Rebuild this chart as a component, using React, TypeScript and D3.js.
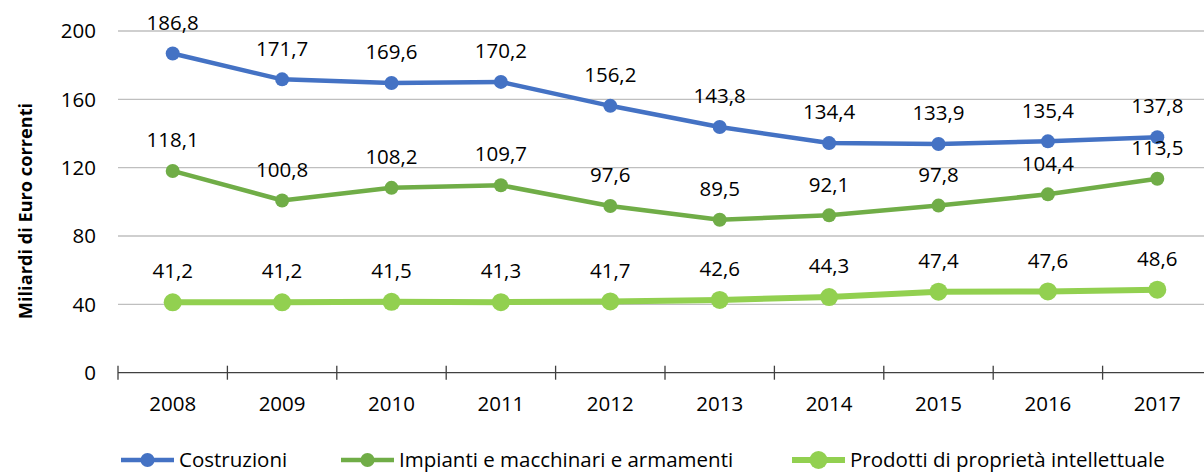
import React from "react"
import * as d3 from "d3"

const width = 1204
const height = 472
const fontFamily = "'Open Sans', sans-serif"

const years = ["2008", "2009", "2010", "2011", "2012", "2013", "2014", "2015", "2016", "2017"]
const costruzioni = [186.8, 171.7, 169.6, 170.2, 156.2, 143.8, 134.4, 133.9, 135.4, 137.8]
const impianti = [118.1, 100.8, 108.2, 109.7, 97.6, 89.5, 92.1, 97.8, 104.4, 113.5]
const prodotti = [41.2, 41.2, 41.5, 41.3, 41.7, 42.6, 44.3, 47.4, 47.6, 48.6]
const yTicks = [0, 40, 80, 120, 160, 200]

const series = [
  { name: "Costruzioni", values: costruzioni, color: "#4472C4", r: 7, sw: 4.5 },
  { name: "Impianti e macchinari e armamenti", values: impianti, color: "#70AD47", r: 7, sw: 4.5 },
  { name: "Prodotti di proprietà intellettuale", values: prodotti, color: "#92D050", r: 9, sw: 6 },
]
const legendX = [121, 341, 792]

const x0 = 118
const bandW = 109.4
const x = d3.scaleBand().domain(years).range([x0, x0 + bandW * years.length])
const y = d3.scaleLinear().domain([0, 200]).range([372.7, 31])
const cx = (yr: string) => (x(yr) as number) + x.bandwidth() / 2

const fmt = (v: number) => v.toFixed(1).replace(".", ",")
const fs = 20.5

const App = () => {
  const line = d3.line<number>().x((_, i) => cx(years[i])).y(d => y(d))
  return (
    <svg width={width} height={height} style={{ position: "absolute", left: 0, top: 0 }} fontFamily={fontFamily}>
      {yTicks.filter(t => t > 0).map(t => (
        <line key={t} x1={x0} x2={width} y1={y(t)} y2={y(t)} stroke="#bfbfbf" strokeWidth={1.3} />
      ))}
      <line x1={x0} x2={width} y1={y(0)} y2={y(0)} stroke="#404040" strokeWidth={1.3} />
      {d3.range(years.length + 1).map(i => (
        <line key={i} x1={x0 + i * bandW} x2={x0 + i * bandW} y1={y(0) - 7} y2={y(0) + 7} stroke="#404040" strokeWidth={1.3} />
      ))}
      {yTicks.map(t => (
        <text key={t} x={96} y={y(t)} dy="0.35em" textAnchor="end" fontSize={fs} fill="#000">{t}</text>
      ))}
      {years.map(yr => (
        <text key={yr} x={cx(yr)} y={404} dy="0.35em" textAnchor="middle" fontSize={fs} fill="#000">{yr}</text>
      ))}
      <text transform={`translate(26,${211}) rotate(-90)`} textAnchor="middle" dy="0.35em" fontSize={18.2} fontWeight="bold" fill="#000">
        Miliardi di Euro correnti
      </text>
      {series.map(s => (
        <g key={s.name}>
          <path d={line(s.values) as string} fill="none" stroke={s.color} strokeWidth={s.sw} strokeLinejoin="round" />
          {s.values.map((v, i) => (
            <circle key={i} cx={cx(years[i])} cy={y(v)} r={s.r} fill={s.color} />
          ))}
        </g>
      ))}
      {series.map(s => (
        <g key={s.name + "-lab"}>
          {s.values.map((v, i) => (
            <text key={i} x={cx(years[i])} y={y(v) - 31} dy="0.35em" textAnchor="middle" fontSize={fs} fill="#000">{fmt(v)}</text>
          ))}
        </g>
      ))}
      {series.map((s, i) => (
        <g key={s.name + "-leg"} transform={`translate(${legendX[i]},460)`}>
          <line x1={0} x2={53} y1={0} y2={0} stroke={s.color} strokeWidth={s.sw} />
          <circle cx={26.5} cy={0} r={s.r} fill={s.color} />
          <text x={58} y={0} dy="0.35em" fontSize={fs} fill="#000">{s.name}</text>
        </g>
      ))}
    </svg>
  )
}

export default App
